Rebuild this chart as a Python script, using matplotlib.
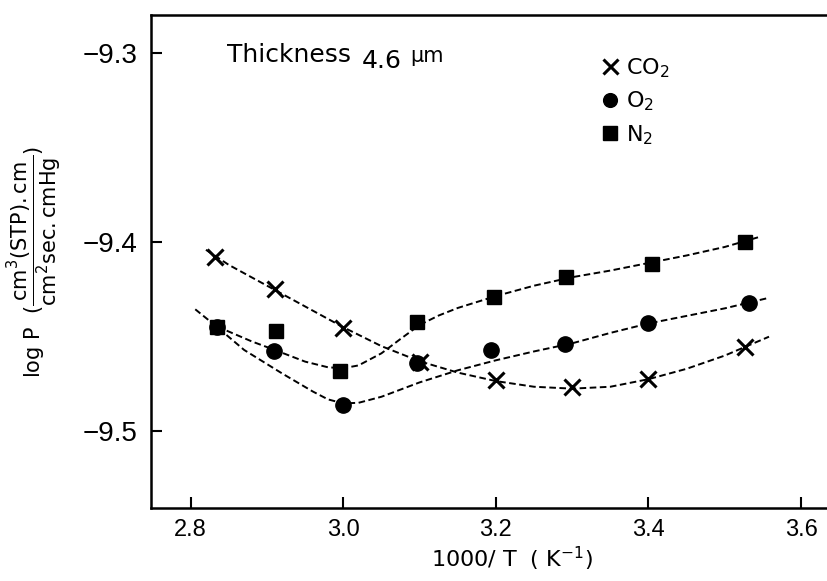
import matplotlib
matplotlib.use('Agg')
import matplotlib.pyplot as plt

# measured points, 1000/T (K^-1) vs log P
x_co2 = [2.832, 2.91, 3.0, 3.1, 3.2, 3.3, 3.399, 3.526]
y_co2 = [-9.4076, -9.425, -9.4455, -9.4635, -9.4729, -9.4764, -9.4722, -9.4552]

x_o2 = [2.835, 2.909, 3.0, 3.096, 3.194, 3.29, 3.4, 3.532]
y_o2 = [-9.4447, -9.4574, -9.4861, -9.4637, -9.457, -9.4540, -9.4429, -9.4323]

x_n2 = [2.835, 2.912, 2.996, 3.097, 3.197, 3.292, 3.405, 3.527]
y_n2 = [-9.4447, -9.4468, -9.468, -9.442, -9.4288, -9.4186, -9.4113, -9.3997]

# dashed guide curves
cx_co2 = [2.82, 2.85, 2.9, 2.95, 3.0, 3.05, 3.1, 3.15, 3.2, 3.25, 3.3, 3.35, 3.4, 3.45, 3.5, 3.558]
cy_co2 = [-9.404, -9.412, -9.423, -9.434, -9.445, -9.455, -9.463, -9.469, -9.4735, -9.4765,
          -9.4775, -9.4765, -9.4725, -9.467, -9.460, -9.450]

cx_o2 = [2.806, 2.835, 2.87, 2.92, 2.96, 2.98, 3.0, 3.02, 3.05, 3.1, 3.15, 3.2, 3.25, 3.3,
         3.35, 3.4, 3.45, 3.5, 3.556]
cy_o2 = [-9.4355, -9.445, -9.457, -9.4695, -9.479, -9.4832, -9.4853, -9.485, -9.4818, -9.4742,
         -9.4678, -9.4625, -9.4578, -9.4535, -9.448, -9.443, -9.439, -9.435, -9.4296]

cx_n2 = [2.835, 2.88, 2.91, 2.95, 2.98, 3.0, 3.02, 3.05, 3.075, 3.1, 3.125, 3.15, 3.2, 3.25,
         3.3, 3.35, 3.4, 3.45, 3.5, 3.547]
cy_n2 = [-9.4447, -9.4525, -9.457, -9.4632, -9.4662, -9.4667, -9.4652, -9.4588, -9.4512, -9.4438,
         -9.4388, -9.4348, -9.4285, -9.423, -9.4185, -9.415, -9.411, -9.407, -9.4025, -9.397]

xticks = [2.8, 3.0, 3.2, 3.4, 3.6]
yticks = [-9.3, -9.4, -9.5]

fig = plt.figure(figsize=(8.27, 5.81), dpi=100)
ax = fig.add_axes([0.1826, 0.1256, 0.8174, 0.8486])

dash = dict(color='black', lw=1.4, dashes=(3.4, 1.8))
ax.plot(cx_co2, cy_co2, **dash)
ax.plot(cx_o2, cy_o2, **dash)
ax.plot(cx_n2, cy_n2, **dash)

h_co2, = ax.plot(x_co2, y_co2, ls='none', marker='x', ms=12, mew=2.2, color='black')
h_o2, = ax.plot(x_o2, y_o2, ls='none', marker='o', ms=11, color='black')
h_n2, = ax.plot(x_n2, y_n2, ls='none', marker='s', ms=10.5, color='black')

ax.set_xlim(2.748, 3.634)
ax.set_ylim(-9.5407, -9.2797)
ax.set_xticks(xticks)
ax.set_xticklabels(['%.1f' % v for v in xticks], fontfamily='Liberation Sans', fontsize=17)
ax.set_yticks(yticks)
ax.set_yticklabels(['\u2212%.1f' % abs(v) for v in yticks], fontfamily='Liberation Sans', fontsize=20)
ax.tick_params(direction='in', length=8, width=1.5, pad=8)
ax.tick_params(axis='y', pad=10)

for s in ['left', 'bottom', 'top']:
    ax.spines[s].set_linewidth(1.8)
ax.spines['right'].set_visible(False)

ax.set_xlabel(r'1000/ T  ( K$^{\mathregular{-1}}$)', fontsize=16)
ax.xaxis.set_label_coords(0.534, -0.075)
ax.set_ylabel(r'log P  ($\dfrac{\mathrm{cm^3(STP).cm}}{\mathrm{cm^2sec.cmHg}}$)', fontsize=15)
ax.yaxis.set_label_coords(-0.129, 0.5)

ax.text(0.112, 0.905, 'Thickness', transform=ax.transAxes, fontsize=18, va='baseline')
ax.text(0.312, 0.8925, '4.6', transform=ax.transAxes, fontsize=18, va='baseline')
ax.text(0.383, 0.905, '\u00b5m', transform=ax.transAxes, fontsize=15, va='baseline')

ax.legend([h_co2, h_o2, h_n2], ['CO$_2$', 'O$_2$', 'N$_2$'], loc='upper left',
          bbox_to_anchor=(0.655, 0.935), frameon=False, fontsize=16,
          handlelength=0.7, handletextpad=0.35, labelspacing=0.45, markerscale=0.9,
          borderaxespad=0)

fig.savefig('out.png', dpi=100)
